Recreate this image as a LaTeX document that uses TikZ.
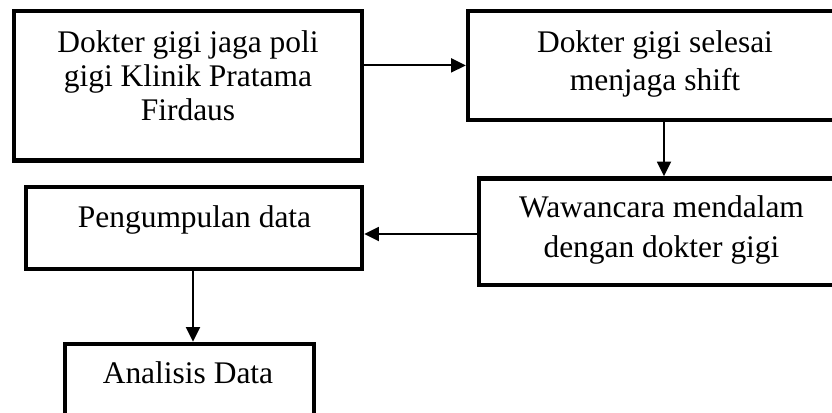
\documentclass[tikz,border=0pt]{standalone}
\usepackage{fontspec}
\setmainfont{Liberation Serif}
\usetikzlibrary{arrows.meta}
\tikzset{
  box/.style={draw=black, line width=3.3pt, rectangle, inner sep=0pt},
  lbl/.style={inner sep=0pt, anchor=north, align=flush center, text width=280pt,
    font=\fontsize{23.6pt}{#1}\selectfont},
  arr/.style={line width=1.4pt, -{Triangle[length=11pt,width=10.5pt]}}
}
\begin{document}
\begin{tikzpicture}[x=0.75pt,y=-0.75pt]
\useasboundingbox (0,0) rectangle (832,412);
\clip (0,0) rectangle (832,412);
% boxes
\node[box, minimum width=348*0.75pt, minimum height=149.7*0.75pt] (b1) at (188,85.65) {};
\node[box, minimum width=374*0.75pt, minimum height=109.2*0.75pt] (b2) at (655,65.4) {};
\node[box, minimum width=365*0.75pt, minimum height=106.5*0.75pt] (b3) at (661.5,231.75) {};
\node[box, minimum width=336*0.75pt, minimum height=82.3*0.75pt] (b4) at (194,227.85) {};
\node[box, minimum width=249.3*0.75pt, minimum height=96*0.75pt] (b5) at (189.35,392) {};
% texts
\node[lbl=25.5pt] (t1) at (188,30.6) {Dokter gigi jaga poli\\gigi Klinik Pratama\\Firdaus};
\node[lbl=28.5pt] (t2) at (655,30.6) {Dokter gigi selesai\\menjaga shift};
\node[lbl=29.8pt] (t3) at (661.5,195.6) {Wawancara mendalam\\dengan dokter gigi};
\node[lbl=28pt] (t4) at (194.5,205.6) {Pengumpulan data};
\node[lbl=28pt] (t5) at (188,361.3) {Analisis Data};
% connector helpers
\coordinate (x2) at (664,0);
\coordinate (y3) at (0,234);
\coordinate (x4) at (193,0);
% connectors
\draw[arr] (b1.east |- b2.west) -- (b2.west);
\draw[arr] (b2.south -| x2) -- (b3.north -| x2);
\draw[arr] (b3.west |- y3) -- (b4.east |- y3);
\draw[arr] (b4.south -| x4) -- (b5.north -| x4);
\end{tikzpicture}
\end{document}
